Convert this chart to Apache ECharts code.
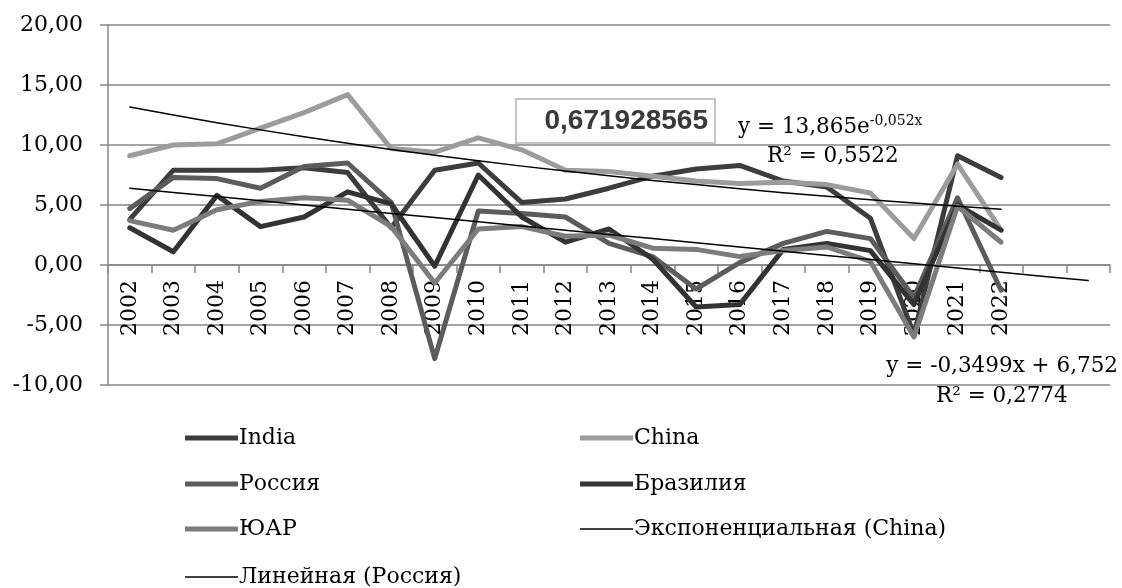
<!DOCTYPE html>
<html>
<head>
<meta charset="utf-8">
<script src="https://cdn.jsdelivr.net/npm/echarts@6/dist/echarts.min.js"></script>
<style>
html,body{margin:0;padding:0;background:#fff;}
#chart{width:1122px;height:588px;}
</style>
</head>
<body>
<div id="chart"></div>
<script>
// ---- data ----
var categories = ['2002','2003','2004','2005','2006','2007','2008','2009','2010','2011','2012','2013','2014','2015','2016','2017','2018','2019','2020','2021','2022','',''];
var india  = [3.8, 7.9, 7.9, 7.9, 8.1, 7.7, 3.1, 7.9, 8.5, 5.2, 5.5, 6.4, 7.4, 8.0, 8.3, 7.0, 6.5, 3.9, -5.8, 9.1, 7.3];
var china  = [9.1, 10.0, 10.1, 11.4, 12.7, 14.2, 9.7, 9.4, 10.6, 9.6, 7.9, 7.8, 7.4, 7.0, 6.8, 6.9, 6.7, 6.0, 2.2, 8.4, 2.9];
var russia = [4.7, 7.3, 7.2, 6.4, 8.2, 8.5, 5.2, -7.8, 4.5, 4.3, 4.0, 1.8, 0.7, -2.0, 0.2, 1.8, 2.8, 2.2, -2.7, 5.6, -2.1];
var brazil = [3.1, 1.1, 5.8, 3.2, 4.0, 6.1, 5.1, -0.1, 7.5, 4.0, 1.9, 3.0, 0.5, -3.5, -3.3, 1.3, 1.8, 1.2, -3.3, 5.0, 2.9];
var sa     = [3.7, 2.9, 4.6, 5.3, 5.6, 5.4, 3.2, -1.5, 3.0, 3.2, 2.4, 2.5, 1.4, 1.3, 0.7, 1.2, 1.5, 0.3, -6.0, 4.9, 1.9];
// trend lines as drawn in the picture
var expChina = [13.16, 12.50, 11.86, 11.26, 10.69, 10.15, 9.63, 9.15, 8.68, 8.24, 7.83, 7.43, 7.05, 6.70, 6.36, 6.03, 5.73, 5.44, 5.16, 4.90, 4.65];
var linRussia = [6.40, 6.05, 5.70, 5.35, 5.00, 4.65, 4.30, 3.95, 3.60, 3.25, 2.90, 2.55, 2.20, 1.85, 1.50, 1.15, 0.80, 0.45, 0.10, -0.25, -0.60, -0.95, -1.30];
var seriesNames = ['India', 'China', 'Россия', 'Бразилия', 'ЮАР', 'Экспоненциальная (China)', 'Линейная (Россия)'];
var yTicks = {min: -10, max: 20, step: 5};
var eqExpMain = 'y = 13,865e', eqExpSup = '-0,052x', eqExpR2 = 'R² = 0,5522';
var eqLin = 'y = -0,3499x + 6,752', eqLinR2 = 'R² = 0,2774';
var boxValue = '0,671928565';

// ---- styles ----
var colors = ['#3d3d3d', '#9c9c9c', '#5c5c5c', '#333333', '#7c7c7c', '#000000', '#000000'];
var serif = '"DejaVu Serif", serif';
var chart = echarts.init(document.getElementById('chart'), null, {renderer: 'canvas'});

function lineSeries(i, data, width, z) {
  return {
    name: seriesNames[i], type: 'line', data: data, symbol: 'none', smooth: false,
    color: colors[i], z: z,
    lineStyle: {color: colors[i], width: width, join: 'round', cap: 'round'},
    emphasis: {disabled: true}
  };
}

function legendItem(i, left, cy, thick) {
  return {
    data: [seriesNames[i]], left: left, top: cy - 10, padding: 0,
    icon: 'rect', itemWidth: 53, itemHeight: thick, itemGap: 0,
    itemStyle: {borderWidth: 0},
    textStyle: {fontFamily: serif, fontSize: 22, color: '#000', padding: [0, 0, 0, -4]},
    selectedMode: false
  };
}

var option = {
  animation: false,
  backgroundColor: '#fff',
  grid: {left: 108, right: 12, top: 25, bottom: 203, containLabel: false, outerBoundsMode: 'none'},
  xAxis: {
    type: 'category', data: categories, boundaryGap: true,
    position: 'bottom', offset: -120,
    axisLine: {onZero: false, lineStyle: {color: '#868686', width: 1.5}},
    axisTick: {show: true, length: 8, lineStyle: {color: '#868686', width: 1.5}},
    axisLabel: {rotate: 90, interval: 0, margin: 15, fontFamily: serif, fontSize: 22, color: '#000'},
    splitLine: {show: false}
  },
  yAxis: {
    type: 'value', min: yTicks.min, max: yTicks.max, interval: yTicks.step,
    axisLine: {show: true, onZero: false, lineStyle: {color: '#868686', width: 1.5}},
    axisTick: {show: true, length: 8, lineStyle: {color: '#868686', width: 1.5}},
    axisLabel: {margin: 25, fontFamily: serif, fontSize: 22, color: '#000',
      formatter: function (v) { return v.toFixed(2).replace('.', ','); }},
    splitLine: {show: true, lineStyle: {color: '#868686', width: 1.5}}
  },
  legend: [
    legendItem(0, 185, 437, 5),
    legendItem(1, 580, 437, 5),
    legendItem(2, 185, 483, 5),
    legendItem(3, 580, 483, 5),
    legendItem(4, 185, 528, 5),
    legendItem(5, 580, 528, 1.5),
    legendItem(6, 185, 576, 1.5)
  ],
  series: [
    lineSeries(0, india, 5, 2),
    lineSeries(1, china, 5, 2),
    lineSeries(2, russia, 5, 2),
    lineSeries(3, brazil, 5, 2),
    lineSeries(4, sa, 5, 2),
    lineSeries(5, expChina, 1.5, 5),
    lineSeries(6, linRussia, 1.5, 5)
  ],
  graphic: [
    {type: 'rect', left: 515, top: 98, z: 10,
     shape: {width: 199, height: 44},
     style: {fill: '#fff', stroke: '#c4c4c4', lineWidth: 2}},
    {type: 'text', right: 1122 - 708, top: 107, z: 11,
     style: {text: boxValue, font: 'bold 28px "Liberation Sans", Arial, sans-serif', fill: '#3a3a3a'}},
    {type: 'text', left: 738, top: 114, z: 11,
     style: {text: '{m|' + eqExpMain + '}{s|' + eqExpSup + '}',
       rich: {m: {fontFamily: serif, fontSize: 21.5, color: '#000'},
              s: {fontFamily: serif, fontSize: 14, color: '#000', padding: [0, 0, 13, 0]}}}},
    {type: 'text', left: 767, top: 145, z: 11,
     style: {text: eqExpR2, font: '21.5px "DejaVu Serif", serif', fill: '#000'}},
    {type: 'text', right: 4, top: 355, z: 11,
     style: {text: eqLin, font: '21.5px "DejaVu Serif", serif', fill: '#000'}},
    {type: 'text', left: 936, top: 385, z: 11,
     style: {text: eqLinR2, font: '21.5px "DejaVu Serif", serif', fill: '#000'}}
  ]
};
chart.setOption(option);
</script>
</body>
</html>
